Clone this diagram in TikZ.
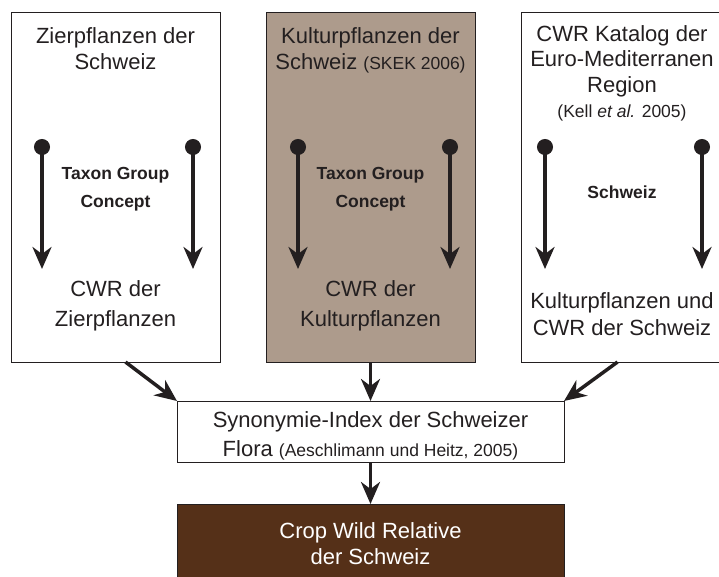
\documentclass[tikz,border=0pt]{standalone}
\usepackage{fontspec}
\setmainfont{Liberation Sans}
\usetikzlibrary{arrows.meta,positioning}

\definecolor{inkgray}{HTML}{231F20}
\definecolor{tanbox}{HTML}{AD9B8C}
\definecolor{cropbrown}{HTML}{553018}

\tikzset{
  srcbox/.style={draw=inkgray, line width=1pt, minimum width=209pt, minimum height=350pt, inner sep=0pt, outer sep=0pt},
  flowbox/.style={draw=inkgray, line width=1pt, minimum width=387pt, inner sep=0pt, outer sep=0pt},
  bigtxt/.style={font=\fontsize{22}{26}\selectfont, align=center, inner sep=0pt, anchor=north, text=inkgray},
  boldtxt/.style={font=\fontsize{17.5}{28}\selectfont\bfseries, align=center, inner sep=0pt, anchor=north, text=inkgray},
  inarrow/.style={line width=3.5pt, draw=inkgray, {Circle[length=16pt]}-{Stealth[length=22pt,width=19pt,inset=7pt]}},
  outarrow/.style={line width=3.5pt, draw=inkgray, -{Stealth[length=22pt,width=19pt,inset=7pt]}}
}

\newcommand{\smalltxt}[1]{{\fontsize{17.5}{26}\selectfont #1}}

\begin{document}
\begin{tikzpicture}[x=1pt,y=-1pt]
\useasboundingbox (0,0) rectangle (719,576);

% the three source boxes
\node[srcbox] (zier) at (115.5,187) {};
\node[srcbox, fill=tanbox] (kult) at (370.5,187) {};
\node[srcbox] (cwr) at (625.5,187) {};

% index and result
\node[flowbox, minimum height=61pt] (syn) at (370.5,431.5) {};
\node[flowbox, minimum height=82pt, fill=cropbrown] (crop) at (370.5,545) {};

% texts, top
\node[bigtxt] (ziertop) at (115.5,27) {Zierpflanzen der\\Schweiz};
\node[bigtxt] (kulttop) at (370.5,27) {Kulturpflanzen der\\Schweiz \smalltxt{(SKEK 2006)}};
\node[bigtxt, font=\fontsize{22}{25.5}\selectfont] (cwrtop) at (622,25) {CWR Katalog der\\Euro-Mediterranen\\Region\\\smalltxt{(Kell \textit{et al.} 2005)}};

% texts, middle
\node[boldtxt] (ziermid) at (115.5,167) {Taxon Group\\Concept};
\node[boldtxt] (kultmid) at (370.5,167) {Taxon Group\\Concept};
\node[boldtxt] (cwrmid) at (622,186) {Schweiz};

% texts, bottom
\node[bigtxt, font=\fontsize{22}{30}\selectfont] (zierbot) at (115.5,280) {CWR der\\Zierpflanzen};
\node[bigtxt, font=\fontsize{22}{30}\selectfont] (kultbot) at (370.5,280) {CWR der\\Kulturpflanzen};
\node[bigtxt, font=\fontsize{22}{27}\selectfont] (cwrbot) at (622,292) {Kulturpflanzen und\\CWR der Schweiz};

\node[bigtxt, font=\fontsize{22}{29}\selectfont] (syntxt) at (370.5,411) {Synonymie-Index der Schweizer\\Flora \smalltxt{(Aeschlimann und Heitz, 2005)}};
\node[bigtxt, text=white] (croptxt) at (370.5,522) {Crop Wild Relative\\der Schweiz};

% arrows inside the boxes
\coordinate (zs1) at (42,139);  \coordinate (ze1) at (42,269);
\coordinate (zs2) at (193,139); \coordinate (ze2) at (193,269);
\coordinate (ks1) at (298,139); \coordinate (ke1) at (298,269);
\coordinate (ks2) at (450,139); \coordinate (ke2) at (450,269);
\coordinate (cs1) at (545,139); \coordinate (ce1) at (545,269);
\coordinate (cs2) at (702,139); \coordinate (ce2) at (702,269);

\draw[inarrow] (zs1) -- (ze1);
\draw[inarrow] (zs2) -- (ze2);
\draw[inarrow] (ks1) -- (ke1);
\draw[inarrow] (ks2) -- (ke2);
\draw[inarrow] (cs1) -- (ce1);
\draw[inarrow] (cs2) -- (ce2);

% arrows between the boxes
\draw[outarrow] ([xshift=10pt]zier.south) -- (syn.north west);
\draw[outarrow] (kult.south) -- (syn.north);
\draw[outarrow] ([xshift=-8pt]cwr.south) -- (syn.north east);
\draw[outarrow] (syn.south) -- (crop.north);

\end{tikzpicture}
\end{document}
